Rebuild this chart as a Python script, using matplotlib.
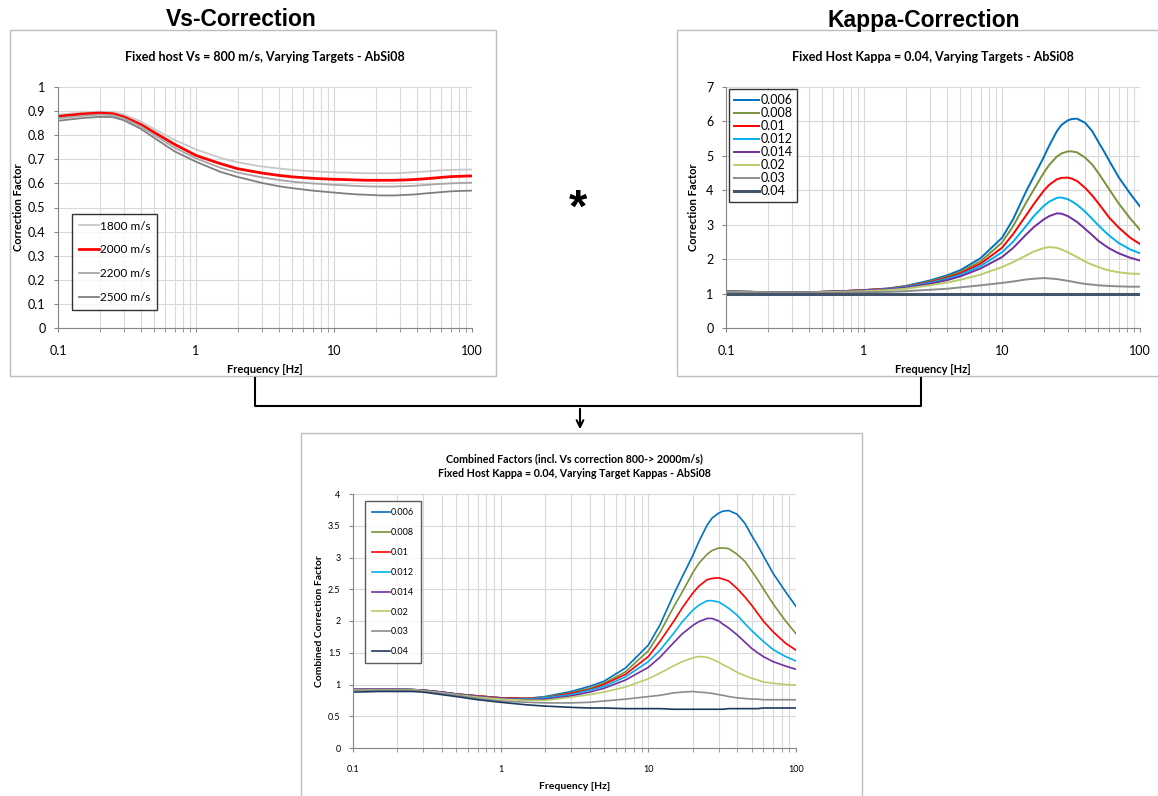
import numpy as np
import matplotlib
matplotlib.use('Agg')
import matplotlib.pyplot as plt
from matplotlib.patches import Rectangle, FancyArrowPatch
from matplotlib.lines import Line2D
from matplotlib.ticker import FixedLocator, LogLocator, FuncFormatter, NullFormatter

plt.rcParams['font.family'] = ['Lato', 'DejaVu Sans']

# frequency samples [Hz]
freq = [0.1, 0.15, 0.2, 0.25, 0.3, 0.4, 0.5, 0.7, 1, 1.5, 2, 3, 4, 5, 7, 10, 12,
        15, 17, 20, 22, 25, 27, 30, 32, 35, 40, 45, 50, 55, 60, 70, 85, 100]

# Vs-correction (host 800 m/s)
vs_labels = ['1800 m/s', '2000 m/s', '2200 m/s', '2500 m/s']
vs_1800 = [0.885, 0.894, 0.898, 0.896, 0.886, 0.856, 0.825, 0.780, 0.741, 0.706, 0.688, 0.670, 0.662, 0.656, 0.650, 0.646, 0.645,
           0.643, 0.642, 0.642, 0.642, 0.642, 0.642, 0.643, 0.644, 0.645, 0.647, 0.649, 0.651, 0.653, 0.654, 0.656, 0.657, 0.658]
vs_2000 = [0.878, 0.888, 0.892, 0.889, 0.876, 0.844, 0.811, 0.762, 0.716, 0.682, 0.661, 0.643, 0.633, 0.627, 0.621, 0.617, 0.616,
           0.614, 0.613, 0.613, 0.613, 0.613, 0.613, 0.614, 0.614, 0.615, 0.617, 0.619, 0.621, 0.623, 0.625, 0.628, 0.630, 0.631]
vs_2200 = [0.870, 0.880, 0.885, 0.883, 0.870, 0.836, 0.800, 0.748, 0.704, 0.665, 0.645, 0.625, 0.614, 0.607, 0.600, 0.594, 0.592,
           0.589, 0.588, 0.587, 0.587, 0.587, 0.587, 0.588, 0.588, 0.589, 0.591, 0.593, 0.595, 0.597, 0.598, 0.600, 0.602, 0.603]
vs_2500 = [0.860, 0.871, 0.876, 0.875, 0.862, 0.826, 0.788, 0.733, 0.690, 0.648, 0.627, 0.602, 0.588, 0.580, 0.570, 0.562, 0.558,
           0.554, 0.553, 0.551, 0.550, 0.550, 0.550, 0.551, 0.552, 0.553, 0.555, 0.558, 0.560, 0.562, 0.564, 0.567, 0.569, 0.570]

# Kappa-correction (host kappa 0.04)
kappa_labels = ['0.006', '0.008', '0.01', '0.012', '0.014', '0.02', '0.03', '0.04']
k_006 = [1.06, 1.05, 1.04, 1.04, 1.04, 1.04, 1.05, 1.07, 1.10, 1.15, 1.22, 1.38, 1.53, 1.68, 2.03, 2.62, 3.15,
         3.98, 4.40, 4.95, 5.30, 5.72, 5.90, 6.03, 6.07, 6.08, 5.96, 5.72, 5.40, 5.12, 4.85, 4.38, 3.90, 3.53]
k_008 = [1.06, 1.05, 1.04, 1.04, 1.04, 1.04, 1.05, 1.07, 1.10, 1.14, 1.21, 1.35, 1.49, 1.63, 1.94, 2.48, 2.95,
         3.65, 4.02, 4.50, 4.74, 4.98, 5.07, 5.13, 5.13, 5.10, 4.95, 4.75, 4.50, 4.25, 4.02, 3.62, 3.18, 2.85]
k_010 = [1.06, 1.05, 1.04, 1.04, 1.04, 1.04, 1.05, 1.07, 1.10, 1.14, 1.20, 1.33, 1.46, 1.59, 1.87, 2.33, 2.72,
         3.28, 3.60, 3.98, 4.16, 4.32, 4.36, 4.37, 4.34, 4.27, 4.07, 3.85, 3.62, 3.40, 3.20, 2.92, 2.62, 2.44]
k_012 = [1.06, 1.05, 1.04, 1.04, 1.04, 1.04, 1.05, 1.06, 1.09, 1.13, 1.19, 1.31, 1.43, 1.55, 1.80, 2.20, 2.50,
         2.97, 3.25, 3.54, 3.67, 3.78, 3.79, 3.74, 3.68, 3.58, 3.38, 3.17, 2.98, 2.82, 2.68, 2.47, 2.28, 2.17]
k_014 = [1.06, 1.05, 1.04, 1.04, 1.04, 1.04, 1.05, 1.06, 1.09, 1.12, 1.17, 1.28, 1.39, 1.50, 1.73, 2.06, 2.32,
         2.72, 2.93, 3.15, 3.25, 3.33, 3.32, 3.25, 3.18, 3.08, 2.88, 2.70, 2.53, 2.41, 2.31, 2.17, 2.04, 1.96]
k_020 = [1.05, 1.04, 1.03, 1.03, 1.03, 1.03, 1.04, 1.05, 1.07, 1.10, 1.14, 1.24, 1.32, 1.40, 1.55, 1.77, 1.91,
         2.11, 2.22, 2.32, 2.35, 2.33, 2.28, 2.20, 2.14, 2.06, 1.93, 1.84, 1.77, 1.71, 1.67, 1.62, 1.58, 1.57]
k_030 = [1.04, 1.03, 1.02, 1.02, 1.02, 1.02, 1.02, 1.03, 1.04, 1.05, 1.07, 1.11, 1.14, 1.18, 1.24, 1.31, 1.35,
         1.41, 1.43, 1.45, 1.44, 1.42, 1.40, 1.37, 1.35, 1.32, 1.28, 1.26, 1.24, 1.23, 1.22, 1.21, 1.20, 1.20]
k_040 = [1.00, 1.00, 1.00, 1.00, 1.00, 1.00, 1.00, 1.00, 1.00, 1.00, 1.00, 1.00, 1.00, 1.00, 1.00, 1.00, 1.00,
         1.00, 1.00, 1.00, 1.00, 1.00, 1.00, 1.00, 1.00, 1.00, 1.00, 1.00, 1.00, 1.00, 1.00, 1.00, 1.00, 1.00]

# combined factors (Vs 800->2000 m/s and kappa)
c_006 = [0.93, 0.93, 0.93, 0.92, 0.91, 0.88, 0.85, 0.82, 0.79, 0.78, 0.81, 0.89, 0.97, 1.05, 1.26, 1.62, 1.94,
         2.44, 2.70, 3.03, 3.25, 3.51, 3.62, 3.70, 3.73, 3.74, 3.68, 3.54, 3.35, 3.19, 3.03, 2.75, 2.46, 2.23]
c_008 = [0.93, 0.93, 0.93, 0.92, 0.91, 0.88, 0.85, 0.82, 0.79, 0.78, 0.80, 0.87, 0.94, 1.02, 1.20, 1.53, 1.82,
         2.24, 2.46, 2.76, 2.91, 3.05, 3.11, 3.15, 3.15, 3.14, 3.05, 2.94, 2.79, 2.65, 2.51, 2.27, 2.00, 1.80]
c_010 = [0.93, 0.93, 0.93, 0.92, 0.91, 0.88, 0.85, 0.82, 0.79, 0.78, 0.79, 0.86, 0.92, 1.00, 1.16, 1.44, 1.68,
         2.01, 2.21, 2.44, 2.55, 2.65, 2.67, 2.68, 2.66, 2.63, 2.51, 2.38, 2.25, 2.12, 2.00, 1.83, 1.65, 1.54]
c_012 = [0.93, 0.93, 0.93, 0.92, 0.91, 0.88, 0.85, 0.81, 0.78, 0.77, 0.79, 0.84, 0.91, 0.97, 1.12, 1.36, 1.54,
         1.82, 1.99, 2.17, 2.25, 2.32, 2.32, 2.30, 2.26, 2.20, 2.09, 1.96, 1.85, 1.76, 1.68, 1.55, 1.44, 1.37]
c_014 = [0.93, 0.93, 0.93, 0.92, 0.91, 0.88, 0.85, 0.81, 0.78, 0.76, 0.77, 0.82, 0.88, 0.94, 1.07, 1.27, 1.43,
         1.67, 1.80, 1.93, 1.99, 2.04, 2.04, 2.00, 1.95, 1.89, 1.78, 1.67, 1.57, 1.50, 1.44, 1.36, 1.29, 1.24]
c_020 = [0.92, 0.92, 0.92, 0.92, 0.90, 0.87, 0.84, 0.80, 0.77, 0.75, 0.75, 0.80, 0.84, 0.88, 0.96, 1.09, 1.18,
         1.30, 1.36, 1.42, 1.44, 1.43, 1.40, 1.35, 1.31, 1.27, 1.19, 1.14, 1.10, 1.07, 1.04, 1.02, 1.00, 0.99]
c_030 = [0.91, 0.91, 0.91, 0.91, 0.89, 0.86, 0.83, 0.78, 0.74, 0.72, 0.71, 0.71, 0.72, 0.74, 0.77, 0.81, 0.83,
         0.87, 0.88, 0.89, 0.88, 0.87, 0.86, 0.84, 0.83, 0.81, 0.79, 0.78, 0.77, 0.77, 0.76, 0.76, 0.76, 0.76]
c_040 = [0.88, 0.89, 0.89, 0.89, 0.88, 0.84, 0.81, 0.76, 0.72, 0.68, 0.66, 0.64, 0.63, 0.63, 0.62, 0.62, 0.62,
         0.61, 0.61, 0.61, 0.61, 0.61, 0.61, 0.61, 0.61, 0.62, 0.62, 0.62, 0.62, 0.62, 0.63, 0.63, 0.63, 0.63]

kappa_colors = ['#0070C0', '#77933C', '#FF0000', '#00B0F0', '#7030A0', '#B9CD6A', '#8C8C8C', '#44546A']

W, H = 1158, 796
fig = plt.figure(figsize=(W / 100, H / 100), dpi=100)


def px_rect(x0, y0, x1, y1):
    # pixel box (top-left origin) -> figure fraction [left, bottom, width, height]
    return [x0 / W, 1 - y1 / H, (x1 - x0) / W, (y1 - y0) / H]


def fx(x):
    return x / W


def fy(y):
    return 1 - y / H


# panel frames
for (x0, y0, x1, y1) in [(10, 30, 496, 376), (677, 30, 1170, 376), (301, 433, 862, 810)]:
    fig.add_artist(Rectangle((fx(x0), fy(y1)), (x1 - x0) / W, (y1 - y0) / H,
                             transform=fig.transFigure, fill=False, edgecolor='#bdbdbd', lw=1))


def style_axis(ax, ymax, ystep, tick_fs):
    ax.set_xscale('log')
    ax.set_xlim(0.1, 100)
    ax.set_ylim(0, ymax)
    ax.yaxis.set_major_locator(FixedLocator(np.arange(0, ymax + ystep / 2, ystep)))
    ax.xaxis.set_major_locator(FixedLocator([0.1, 1, 10, 100]))
    ax.xaxis.set_minor_locator(LogLocator(base=10, subs=np.arange(2, 10)))
    ax.xaxis.set_minor_formatter(NullFormatter())
    fmt = FuncFormatter(lambda v, p: f'{v:g}')
    ax.xaxis.set_major_formatter(fmt)
    ax.yaxis.set_major_formatter(fmt)
    ax.grid(True, which='both', axis='x', color='#d9d9d9', lw=0.8)
    ax.grid(True, which='major', axis='y', color='#d9d9d9', lw=0.8)
    ax.set_axisbelow(True)
    for s in ['top', 'right']:
        ax.spines[s].set_visible(False)
    for s in ['left', 'bottom']:
        ax.spines[s].set_color('#868686')
    ax.tick_params(axis='both', which='both', direction='out', color='#868686',
                   labelsize=tick_fs, length=3, pad=6)
    ax.tick_params(axis='x', which='major', pad=9)


def boxed_legend(ax, anchor, fs, hl, ls, bp, ec='black'):
    leg = ax.legend(loc='upper left', bbox_to_anchor=anchor, fontsize=fs, frameon=True,
                    fancybox=False, edgecolor=ec, handlelength=hl, handletextpad=0.1,
                    labelspacing=ls, borderpad=bp, borderaxespad=0)
    leg.get_frame().set_linewidth(1.0)
    return leg


# ---------------- Vs-Correction ----------------
ax1 = fig.add_axes(px_rect(58, 87, 472, 328))
style_axis(ax1, 1.0, 0.1, 9)
ax1.plot(freq, vs_1800, color='#C8C8C8', lw=1.3, label=vs_labels[0])
ax1.plot(freq, vs_2000, color='#FF0000', lw=2.0, label=vs_labels[1])
ax1.plot(freq, vs_2200, color='#A6A6A6', lw=1.3, label=vs_labels[2])
ax1.plot(freq, vs_2500, color='#7F7F7F', lw=1.3, label=vs_labels[3])
ax1.set_title('Fixed host Vs = 800 m/s, Varying Targets - AbSi08', fontsize=9, fontweight='bold', pad=19)
ax1.set_xlabel('Frequency [Hz]', fontsize=8, fontweight='bold', labelpad=5)
ax1.set_ylabel('Correction Factor', fontsize=8, fontweight='bold', labelpad=3)
boxed_legend(ax1, (0.034, 0.473), 8.5, 1.7, 1.1, 0.55)

# ---------------- Kappa-Correction ----------------
ax2 = fig.add_axes(px_rect(726, 87, 1140, 328))
style_axis(ax2, 7, 1, 9)
k_series = [k_006, k_008, k_010, k_012, k_014, k_020, k_030, k_040]
for lab, col, ys in zip(kappa_labels, kappa_colors, k_series):
    ax2.plot(freq, ys, color=col, lw=2.2 if lab == '0.04' else 1.4, label=lab)
ax2.set_title('Fixed Host Kappa = 0.04, Varying Targets - AbSi08', fontsize=9, fontweight='bold', pad=19)
ax2.set_xlabel('Frequency [Hz]', fontsize=8, fontweight='bold', labelpad=5)
ax2.set_ylabel('Correction Factor', fontsize=8, fontweight='bold', labelpad=5)
boxed_legend(ax2, (0.007, 0.992), 9, 2.0, 0.08, 0.4)

# ---------------- Combined ----------------
ax3 = fig.add_axes(px_rect(353, 494, 796, 748))
style_axis(ax3, 4, 0.5, 6.5)
c_series = [c_006, c_008, c_010, c_012, c_014, c_020, c_030, c_040]
for lab, col, ys in zip(kappa_labels, kappa_colors, c_series):
    ax3.plot(freq, ys, color=col if lab != '0.04' else '#1F3A5F', lw=1.2, label=lab)
ax3.set_title('Combined Factors (incl. Vs correction 800-> 2000m/s)\n'
              'Fixed Host Kappa = 0.04, Varying Target Kappas - AbSi08',
              fontsize=7.7, fontweight='bold', pad=12, linespacing=1.5)
ax3.set_xlabel('Frequency [Hz]', fontsize=7.5, fontweight='bold', labelpad=6)
ax3.set_ylabel('Combined Correction Factor', fontsize=7.5, fontweight='bold', labelpad=3)
boxed_legend(ax3, (0.027, 0.972), 6.5, 2.0, 1.2, 0.8, ec='#333333')

# ---------------- headings, operator, connectors ----------------
fig.text(fx(241), fy(20), 'Vs-Correction', ha='center', va='center', fontsize=16.5,
         fontweight='bold', family='Liberation Sans')
fig.text(fx(924), fy(20), 'Kappa-Correction', ha='center', va='center', fontsize=16.5,
         fontweight='bold', family='Liberation Sans')
fig.text(fx(578), fy(210), '*', ha='center', va='center', fontsize=34,
         fontweight='bold', family='Liberation Sans')

conn = dict(transform=fig.transFigure, color='black', lw=1.5)
fig.add_artist(Line2D([fx(255), fx(255), fx(921), fx(921)], [fy(378), fy(406), fy(406), fy(378)], **conn))
fig.add_artist(FancyArrowPatch((fx(580), fy(406)), (fx(580), fy(432)), transform=fig.transFigure,
                               arrowstyle='->', mutation_scale=12, color='black', lw=1.5))

fig.savefig('out.png', dpi=100)
